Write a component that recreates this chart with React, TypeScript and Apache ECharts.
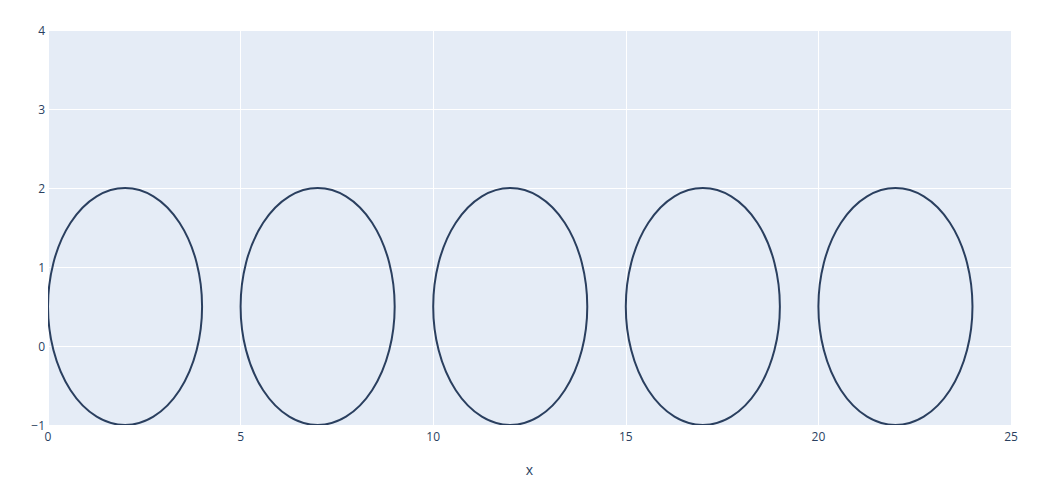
import React, { useEffect, useRef } from "react";
import * as echarts from "echarts";

const xTicks = [0, 5, 10, 15, 20, 25];
const yTicks = [-1, 0, 1, 2, 3, 4];
const ellipseX0 = [0, 5, 10, 15, 20];
const ellipseX1 = [4, 9, 14, 19, 24];
const ellipseY0 = [-1, -1, -1, -1, -1];
const ellipseY1 = [2, 2, 2, 2, 2];

const fmt = (v: number) => (v < 0 ? "\u2212" + Math.abs(v) : String(v));

export default function App() {
  const ref = useRef<HTMLDivElement>(null);
  useEffect(() => {
    if (!ref.current) return;
    const chart = echarts.init(ref.current, null, { renderer: "svg", width: 1059, height: 481 });
    const data = ellipseX0.map((x0, i) => [x0, ellipseY0[i], ellipseX1[i], ellipseY1[i]]);
    const font = '"Open Sans", "Noto Sans", sans-serif';
    chart.setOption({
      animation: false,
      backgroundColor: "#fff",
      grid: { left: 48, right: 48, top: 30, bottom: 48, backgroundColor: "#E5ECF6", show: true, borderWidth: 0 },
      xAxis: {
        type: "value",
        min: xTicks[0],
        max: xTicks[xTicks.length - 1],
        interval: 5,
        name: "x",
        nameLocation: "middle",
        nameGap: 37,
        nameTextStyle: { color: "#2a3f5f", fontSize: 14, fontFamily: font },
        axisLine: { show: false },
        axisTick: { show: false },
        axisLabel: { color: "#2a3f5f", fontSize: 12, fontFamily: font, margin: 5, formatter: fmt },
        splitLine: { show: true, lineStyle: { color: "#fff", width: 1 } },
      },
      yAxis: {
        type: "value",
        min: yTicks[0],
        max: yTicks[yTicks.length - 1],
        interval: 1,
        axisLine: { show: false },
        axisTick: { show: false },
        axisLabel: { color: "#2a3f5f", fontSize: 12, fontFamily: font, margin: 3, formatter: fmt },
        splitLine: { show: true, lineStyle: { color: "#fff", width: 1 } },
      },
      series: [
        {
          type: "custom",
          clip: true,
          data,
          encode: { x: [0, 2], y: [1, 3] },
          renderItem: (params: any, api: any) => {
            const p0 = api.coord([api.value(0), api.value(1)]);
            const p1 = api.coord([api.value(2), api.value(3)]);
            const cx = (p0[0] + p1[0]) / 2;
            const cy = (p0[1] + p1[1]) / 2;
            const rx = Math.abs(p1[0] - p0[0]) / 2;
            const ry = Math.abs(p1[1] - p0[1]) / 2;
            const d = `M ${cx - rx} ${cy} A ${rx} ${ry} 0 1 0 ${cx + rx} ${cy} A ${rx} ${ry} 0 1 0 ${cx - rx} ${cy} Z`;
            return {
              type: "path",
              shape: { pathData: d },
              style: { fill: "none", stroke: "#2a3f5f", lineWidth: 2 },
            };
          },
        },
      ],
    });
    return () => chart.dispose();
  }, []);
  return (
    <div
      ref={ref}
      style={{ position: "absolute", left: 0, top: 0, width: 1059, height: 481 }}
    />
  );
}
